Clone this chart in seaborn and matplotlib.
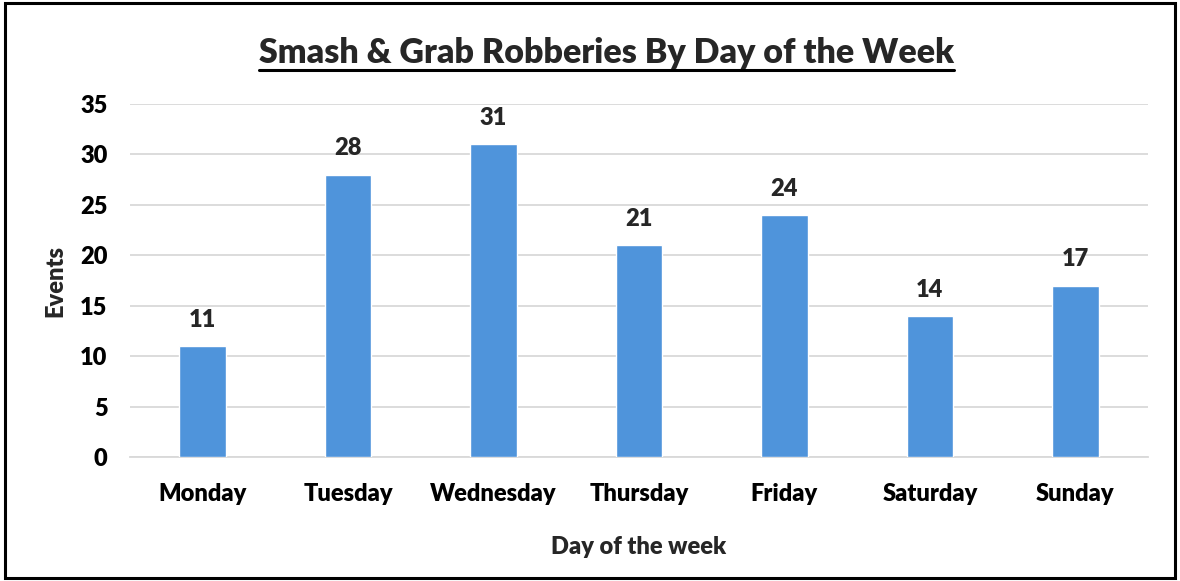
import matplotlib
matplotlib.use("Agg")
import matplotlib.pyplot as plt
import seaborn as sns
import pandas as pd
from matplotlib.lines import Line2D
from matplotlib.patches import Rectangle

days = ["Monday", "Tuesday", "Wednesday", "Thursday", "Friday", "Saturday", "Sunday"]
events = [11, 28, 31, 21, 24, 14, 17]
y_ticks = [0, 5, 10, 15, 20, 25, 30, 35]

df = pd.DataFrame({"day": days, "events": events})

sns.set_theme(style="white")
plt.rcParams["font.family"] = ["Lato", "DejaVu Sans"]

FS = 17
WEIGHT = "heavy"

fig = plt.figure(figsize=(11.8, 5.81), dpi=100)
ax = fig.add_axes([0.110, 0.2134, 0.863, 0.6076])

sns.barplot(data=df, x="day", y="events", color="#4F94DB", width=0.32,
            saturation=1, ax=ax, zorder=3)

ax.set_ylim(0, 35)
ax.set_xlim(-0.5, 6.5)
ax.set_yticks(y_ticks)
ax.yaxis.grid(True, color="#D9D9D9", linewidth=1.3, zorder=0)
ax.set_axisbelow(True)
for s in ["top", "right", "left"]:
    ax.spines[s].set_visible(False)
ax.spines["bottom"].set_color("#D9D9D9")
ax.spines["bottom"].set_linewidth(1.3)
ax.tick_params(axis="both", length=0, labelsize=FS, colors="black")
ax.tick_params(axis="x", pad=19)
ax.tick_params(axis="y", pad=16)
for lbl in ax.get_xticklabels() + ax.get_yticklabels():
    lbl.set_fontweight(WEIGHT)

for i, v in enumerate(events):
    ax.annotate(str(v), (i, v), xytext=(0, 11), textcoords="offset points",
                ha="center", va="bottom", fontsize=FS, fontweight=WEIGHT)

ax.set_xlabel("Day of the week", fontsize=FS, fontweight=WEIGHT, labelpad=22)
ax.set_ylabel("Events", fontsize=FS, fontweight=WEIGHT, labelpad=10)

title = fig.text(0.514, 0.891, "Smash & Grab Robberies By Day of the Week",
                 ha="center", va="baseline", fontsize=24.5, fontweight=WEIGHT)

# underline the title
fig.canvas.draw()
bb = title.get_window_extent(renderer=fig.canvas.get_renderer())
inv = fig.transFigure.inverted()
(x0, y0), (x1, y1) = inv.transform([(bb.x0, bb.y0), (bb.x1, bb.y1)])
fig.add_artist(Line2D([x0, x1], [0.879, 0.879], color="black", linewidth=2.2,
                      transform=fig.transFigure))

# outer frame
fig.add_artist(Rectangle((0.004, 0.006), 0.992, 0.988, fill=False,
                         edgecolor="black", linewidth=2.2, transform=fig.transFigure))

fig.savefig("out.png", dpi=100)
